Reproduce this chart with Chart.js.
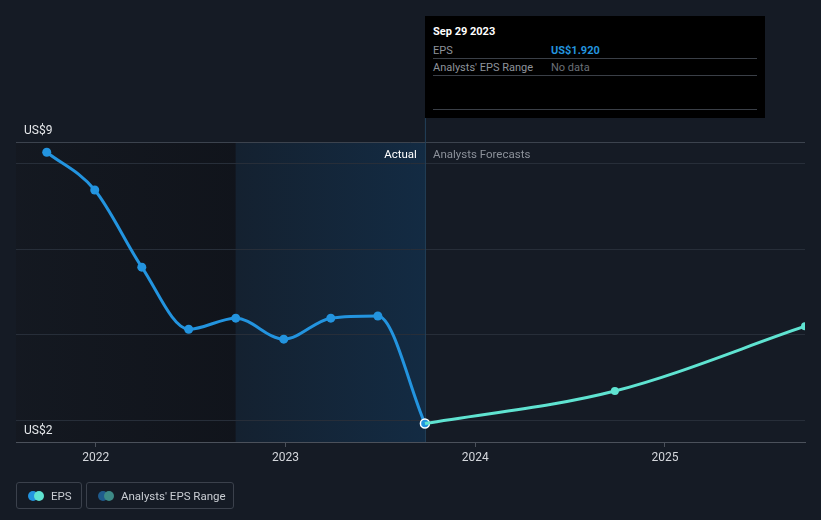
<!DOCTYPE html>
<html>
<head>
<meta charset="utf-8">
<script src="https://cdn.jsdelivr.net/npm/chart.js@4.4.1/dist/chart.umd.min.js"></script>
<style>
  html, body { margin: 0; padding: 0; background: #151b25; }
  body { width: 821px; height: 520px; position: relative; overflow: hidden; font-family: Roboto, "Noto Sans", sans-serif; }
  #wrap { position: absolute; left: 0; top: 0; width: 821px; height: 520px; }
  .tip { position: absolute; left: 425px; top: 16px; width: 340px; height: 102px; background: #000; color: #fff; font-size: 11px; }
  .tip .row { position: absolute; left: 8px; right: 8px; border-bottom: 1px solid #3a3f47; height: 17px; }
  .tip .k { position: absolute; left: 0; top: 3px; color: #8e939b; }
  .tip .v { position: absolute; left: 118px; top: 3px; }
  .legend { position: absolute; top: 482px; height: 27px; border: 1px solid #3b414c; border-radius: 3px; color: #c9cdd3; font-size: 11.5px; box-sizing: border-box; white-space: nowrap; }
  .legend span.t { position: absolute; top: 6px; }
  .dot { position: absolute; top: 8px; width: 10px; height: 10px; border-radius: 50%; }
</style>
</head>
<body>
<div id="wrap"><canvas id="epsChart" width="821" height="520"></canvas></div>

<div class="tip">
  <div style="position:absolute;left:8px;top:9px;font-weight:bold;">Sep 29 2023</div>
  <div class="row" style="top:25px;"><span class="k">EPS</span><span class="v" style="color:#2394df;font-weight:bold;">US$1.920</span></div>
  <div class="row" style="top:42px;"><span class="k">Analysts' EPS Range</span><span class="v" style="color:#6b7078;">No data</span></div>
  <div class="row" style="top:76px;height:17px;"></div>
</div>

<div class="legend" style="left:16px;width:66px;">
  <div class="dot" style="left:11px;background:#2394df;"></div>
  <div class="dot" style="left:17px;background:#5fe3d1;"></div>
  <span class="t" style="left:34px;">EPS</span>
</div>
<div class="legend" style="left:86px;width:148px;">
  <div class="dot" style="left:11px;background:#1f5b8c;"></div>
  <div class="dot" style="left:17px;background:#3d8a86;"></div>
  <span class="t" style="left:34px;">Analysts' EPS Range</span>
</div>

<script>
// EPS history (quarterly) and analyst forecast
const epsYears = [2021.742, 2021.995, 2022.243, 2022.490, 2022.738, 2022.991, 2023.239, 2023.487, 2023.735];
const epsValues = [8.25, 7.37, 5.57, 4.12, 4.38, 3.89, 4.38, 4.43, 1.92];
const forecastYears = [2023.735, 2024.736, 2025.738];
const forecastValues = [1.92, 2.68, 4.19];
const yearTicks = [2022, 2023, 2024, 2025];
const gridValues = [2, 4, 6, 8];
const yLabels = ["US$9", "US$2"];

const X_MIN = 2021.58, X_MAX = 2025.738;
const Y_MIN = 1.49, Y_MAX = 8.49;
const pastStart = 2022.738, nowYear = 2023.735;

const lastIdx = epsValues.length - 1;

const bgPlugin = {
  id: "bands",
  beforeDatasetsDraw(chart) {
    const { ctx, chartArea: a, scales: { x, y } } = chart;
    const xs = x.getPixelForValue(pastStart);
    const xn = x.getPixelForValue(nowYear);
    ctx.save();
    // older history band
    let g = ctx.createLinearGradient(a.left, 0, xs, 0);
    g.addColorStop(0, "rgba(20,25,33,0.9)");
    g.addColorStop(1, "rgba(16,20,27,0.9)");
    ctx.fillStyle = g;
    ctx.fillRect(a.left, a.top, xs - a.left, a.bottom - a.top);
    // last twelve months band
    g = ctx.createLinearGradient(xs, 0, xn, 0);
    g.addColorStop(0, "#142130");
    g.addColorStop(1, "#132b43");
    ctx.fillStyle = g;
    ctx.fillRect(xs, a.top, xn - xs, a.bottom - a.top);
    // grid lines
    ctx.strokeStyle = "#272e39";
    ctx.lineWidth = 1;
    gridValues.forEach(v => {
      const py = Math.round(y.getPixelForValue(v)) + 0.5;
      ctx.beginPath(); ctx.moveTo(a.left, py); ctx.lineTo(a.right, py); ctx.stroke();
    });
    ctx.strokeStyle = "#3c434e";
    ctx.beginPath(); ctx.moveTo(a.left, a.top + 0.5); ctx.lineTo(a.right, a.top + 0.5); ctx.stroke();
    // now line
    ctx.strokeStyle = "#23405a";
    ctx.beginPath(); ctx.moveTo(xn + 0.5, 118); ctx.lineTo(xn + 0.5, a.bottom); ctx.stroke();
    // labels
    ctx.font = "11.5px Roboto, sans-serif";
    ctx.textBaseline = "middle";
    ctx.fillStyle = "#ffffff";
    ctx.textAlign = "right";
    ctx.fillText("Actual", xn - 8, a.top + 13);
    ctx.fillStyle = "#8c919a";
    ctx.textAlign = "left";
    ctx.fillText("Analysts Forecasts", xn + 8, a.top + 13);
    ctx.fillStyle = "#e6e8eb";
    ctx.font = "12px Roboto, sans-serif";
    ctx.fillText(yLabels[0], 24, a.top - 11);
    ctx.fillText(yLabels[1], 24, y.getPixelForValue(gridValues[0]) + 11);
    ctx.restore();
  }
};

new Chart(document.getElementById("epsChart").getContext("2d"), {
  type: "line",
  data: {
    datasets: [
      {
        label: "Forecast",
        data: forecastYears.map((x, i) => ({ x, y: forecastValues[i] })),
        borderColor: "#5fe3d1",
        backgroundColor: "#5fe3d1",
        borderWidth: 3,
        cubicInterpolationMode: "monotone",
        pointRadius: [0, 4, 4],
        pointBorderWidth: 0
      },
      {
        label: "EPS",
        data: epsYears.map((x, i) => ({ x, y: epsValues[i] })),
        borderColor: "#2394df",
        backgroundColor: "#2394df",
        borderWidth: 3,
        cubicInterpolationMode: "monotone",
        pointRadius: 4.5,
        pointBorderWidth: epsValues.map((v, i) => i === lastIdx ? 1.5 : 0),
        pointBorderColor: epsValues.map((v, i) => i === lastIdx ? "#ffffff" : "#2394df")
      }
    ]
  },
  options: {
    responsive: false,
    animation: false,
    layout: { padding: { left: 16, right: 16, top: 142, bottom: 0 } },
    plugins: { legend: { display: false }, tooltip: { enabled: false } },
    scales: {
      x: {
        type: "linear",
        min: X_MIN,
        max: X_MAX,
        afterBuildTicks: s => { s.ticks = yearTicks.map(v => ({ value: v })); },
        afterFit: s => { s.height = 78; },
        ticks: { color: "#d4d7dc", font: { size: 12, family: "Roboto" }, padding: 4, callback: v => String(v) },
        grid: { drawOnChartArea: false, drawTicks: true, tickLength: 5, color: "#4b515b" },
        border: { color: "#4b515b" }
      },
      y: {
        min: Y_MIN,
        max: Y_MAX,
        afterFit: s => { s.width = 0; },
        ticks: { display: false },
        grid: { display: false },
        border: { display: false }
      }
    }
  },
  plugins: [bgPlugin]
});
</script>
</body>
</html>
